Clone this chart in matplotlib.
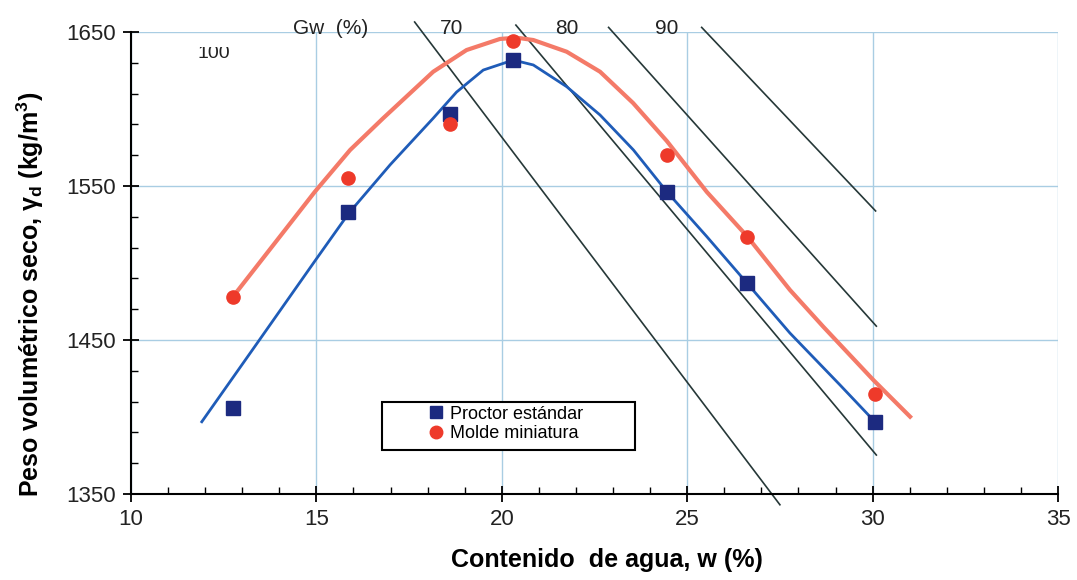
"""
Compaction curves: dry unit weight vs. water content, standard Proctor
against the miniature mould, with constant-saturation lines.
"""
import matplotlib.pyplot as plt
from matplotlib.patches import Rectangle
from matplotlib.lines import Line2D
from matplotlib.ticker import MultipleLocator

plt.rcParams["font.family"] = ["Liberation Sans", "DejaVu Sans"]

# measured points
w_points = [12.75, 15.85, 18.6, 20.3, 24.46, 26.61, 30.07]
proctor_gd = [1406, 1533, 1597, 1632, 1546, 1487, 1397]
mini_gd = [1478, 1555, 1590, 1644, 1570, 1517, 1415]

# fitted curves
proctor_curve_w = [11.91, 13.39, 14.96, 15.88, 16.99, 18.15, 18.78, 19.5, 20.31,
                   20.85, 21.75, 22.65, 23.55, 24.45, 25.53, 26.61, 27.77, 29.12,
                   30.06, 30.19]
proctor_curve_gd = [1396.9, 1447.5, 1501.3, 1532.5, 1563.8, 1594.0, 1611.0, 1625.3,
                    1631.8, 1628.6, 1614.5, 1596.1, 1573.4, 1546.3, 1517.1, 1487.0,
                    1454.5, 1420.8, 1396.9, 1392.9]
mini_curve_w = [12.75, 13.93, 14.96, 15.91, 16.8, 18.15, 19.05, 19.95, 20.4,
                20.85, 21.75, 22.65, 23.54, 24.45, 25.53, 26.61, 27.77, 28.67,
                30.02, 31.01]
mini_curve_gd = [1478.1, 1514.5, 1546.3, 1573.4, 1594.0, 1624.2, 1638.3, 1645.5,
                 1646.3, 1644.8, 1637.2, 1624.2, 1603.9, 1579.2, 1546.1, 1517.5,
                 1482.5, 1458.6, 1424.0, 1400.2]

# constant Gw lines, (w, gd) at each end
gw_lines = [
    ((17.65, 1656.5), (27.5, 1343.0)),
    ((20.38, 1654.5), (30.1, 1375.3)),
    ((22.88, 1653.0), (30.1, 1459.0)),
    ((25.39, 1653.0), (30.08, 1533.8)),
]
gw_labels = ["70", "80", "90"]
gw_label_w = [18.65, 21.75, 24.45]

fig = plt.figure(figsize=(10.77, 5.80), dpi=100)
ax = fig.add_axes([0.1216, 0.1483, 0.8608, 0.7965])

ax.set_xlim(10, 35)
ax.set_ylim(1350, 1650)
ax.xaxis.set_major_locator(MultipleLocator(5))
ax.xaxis.set_minor_locator(MultipleLocator(1))
ax.yaxis.set_major_locator(MultipleLocator(100, offset=50))
ax.yaxis.set_minor_locator(MultipleLocator(20, offset=10))

ax.grid(which="major", color="#a9cde3", linewidth=1.0, zorder=0)
for s in ["top", "right"]:
    ax.spines[s].set_visible(False)
for s in ["left", "bottom"]:
    ax.spines[s].set_linewidth(1.5)
    ax.spines[s].set_zorder(5)

ax.tick_params(which="major", direction="inout", length=12, width=1.3,
               labelsize=16, pad=5, labelcolor="#222222")
ax.tick_params(which="minor", direction="in", length=5, width=1.0)

# saturation lines
for (p0, p1) in gw_lines:
    ax.plot([p0[0], p1[0]], [p0[1], p1[1]], color="#263838", linewidth=1.2,
            clip_on=False, zorder=3)

ax.plot(proctor_curve_w, proctor_curve_gd, color="#1f5cb8", linewidth=2.0,
        solid_joinstyle="round", zorder=4)
ax.plot(mini_curve_w, mini_curve_gd, color="#f47a68", linewidth=3.0,
        solid_joinstyle="round", zorder=4)

ax.plot(w_points, proctor_gd, "s", color="#1c2a80", markersize=9.5, zorder=6,
        clip_on=False)
ax.plot(w_points, mini_gd, "o", color="#ee3a2a", markersize=9.5, zorder=6,
        clip_on=False)

# labels along the top
ax.text(15.39, 1652, "Gw  (%)", fontsize=15, ha="center", va="center",
        color="#222222", clip_on=False)
for lab, xw in zip(gw_labels, gw_label_w):
    ax.text(xw, 1652, lab, fontsize=15, ha="center", va="center",
            color="#222222", clip_on=False)
# the "100" label sits half hidden under the top edge
t100 = ax.text(12.24, 1633.0, "100", fontsize=14, ha="center", va="baseline",
               color="#222222", clip_on=True)
t100.set_clip_path(Rectangle((11.0, 1600), 3.0, 40.0, transform=ax.transData))
t100.set_clip_on(True)

# legend: plain box with the entries inside
ax.add_patch(Rectangle((0.2708, 0.0952), 0.2729, 0.1039, transform=ax.transAxes,
                       facecolor="white", edgecolor="black", linewidth=1.5,
                       zorder=7))
handles = [
    Line2D([], [], marker="s", linestyle="none", color="#1c2a80", markersize=9),
    Line2D([], [], marker="o", linestyle="none", color="#ee3a2a", markersize=9),
]
leg = ax.legend(handles, ["Proctor estándar", "Molde miniatura"],
                loc="center left", bbox_to_anchor=(0.3212, 0.1515),
                fontsize=13, frameon=False, handlelength=0.8,
                handletextpad=0.35, borderpad=0, borderaxespad=0,
                labelspacing=0.15, numpoints=1)
leg.set_zorder(8)

ax.set_xlabel("Contenido  de agua, w (%)", fontsize=18, fontweight="bold")
ax.set_ylabel("Peso volumétrico seco, γ$_\\mathregular{d}$ (kg/m$^\\mathregular{3}$)",
              fontsize=18, fontweight="bold")
ax.xaxis.set_label_coords(0.5135, -0.118)
ax.yaxis.set_label_coords(-0.092, 0.431)

fig.savefig("out.png", dpi=100)
